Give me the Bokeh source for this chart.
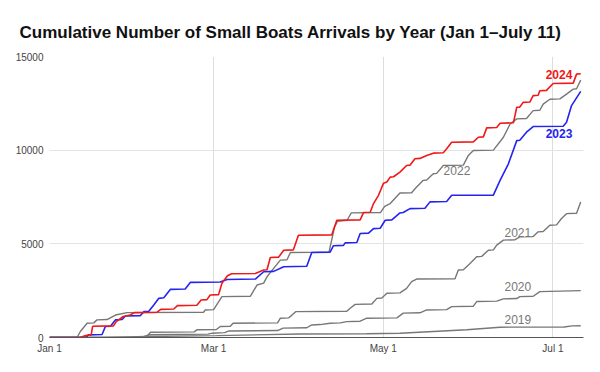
from bokeh.plotting import figure
from bokeh.models import FixedTicker, Range1d, Label
from bokeh.embed import file_html
from bokeh.resources import INLINE

# Day of year (Jan 1 = 0) and cumulative arrivals
days_2024 = [0, 11, 13, 15, 15.5, 23, 24, 26.5, 29, 30.5, 38.7, 40, 44.7, 46, 53, 54.5, 56.6, 57.8, 60.8, 62, 64, 65.5,
             74, 77, 78.2, 79.4, 82.4, 84.2, 87.7, 89.5, 101.5, 103.3, 111.7, 112.9, 115.3, 116.5, 118.3, 120.1, 121.3,
             122.5, 123.7, 126, 128.4, 129.6, 131.4, 133.2, 135.6, 138, 141.6, 142.8, 144.6, 152.4, 154.2, 156, 157.2,
             160.8, 162, 166.8, 168, 169.1, 170.3, 172.7, 173.9, 175.7, 176.3, 178.7, 181.1, 188.3, 189.5, 191]
vals_2024 = [0, 0, 100, 150, 600, 620, 850, 1120, 1200, 1330, 1350, 1500, 1520, 1700, 1720, 2000, 2020, 2270, 2290, 2900,
             3300, 3400, 3420, 3600, 3620, 4270, 4290, 4660, 4680, 5460, 5480, 6260, 6280, 6670, 6690, 7150, 7590, 8240,
             8300, 8560, 8580, 8830, 9180, 9200, 9540, 9560, 9720, 9840, 9860, 10070, 10420, 10440, 10690, 10710, 11190,
             11210, 11440, 11460, 12290, 12300, 12550, 12570, 12910, 12930, 13170, 13190, 13560, 13580, 14060, 14080]

days_2023 = [0, 13, 14, 18.9, 20.1, 21.9, 23.7, 26.1, 27.3, 32.7, 33.9, 35.7, 37.5, 39.3, 41.1, 43.5, 48.8, 50.6, 61.4,
             63.8, 74, 77, 80.6, 84.2, 92.5, 94.3, 100.9, 102.1, 105.7, 106.3, 110.5, 111.7, 114.7, 116.5, 118.9, 120.7,
             123.1, 126, 127.2, 129.6, 135, 136.8, 142.8, 144.6, 159.6, 162, 165, 168, 169.1, 171.5, 173.9, 184.7,
             185.9, 187.7, 191]
vals_2023 = [0, 0, 140, 160, 590, 600, 940, 960, 1150, 1170, 1380, 1400, 1740, 2090, 2120, 2570, 2590, 2940, 2960, 3100,
             3120, 3510, 3530, 3780, 3800, 4540, 4560, 4900, 4920, 5050, 5070, 5550, 5570, 5810, 5830, 6260, 6280, 6650,
             6670, 6880, 6900, 7240, 7260, 7590, 7600, 8390, 9270, 10510, 10530, 10960, 11260, 11280, 11490, 12380, 13140]

days_2022 = [0, 9.9, 11.1, 13.5, 15.9, 17.1, 20.7, 23.7, 27.9, 55.4, 56, 59, 62, 72.2, 74.6, 77, 78.2, 80.6, 83, 85.4,
             86.6, 100.5, 102.5, 103.5, 107, 108.5, 119, 120.5, 122.5, 126, 130.2, 131.4, 134.4, 135.6, 138, 139.2,
             141.6, 148.8, 150.6, 152.4, 159.6, 163.2, 165.6, 168, 171.5, 173.9, 176.3, 177.5, 179.9, 183.5, 185.9,
             188.3, 189.5, 191]
vals_2022 = [0, 0, 320, 760, 780, 940, 960, 1200, 1330, 1350, 1470, 1490, 2180, 2200, 2800, 2900, 3240, 3690, 4130, 4150,
             4540, 4560, 5900, 6200, 6260, 6650, 6670, 7000, 7150, 7710, 7730, 7940, 8390, 8410, 8740, 8760, 9180, 9200,
             9720, 9980, 10000, 10690, 11400, 11670, 11690, 12110, 12130, 12460, 12720, 12740, 12990, 13260, 13280, 13740]

days_2021 = [0, 30, 35, 36.3, 52, 53, 60, 61.4, 65, 66, 82, 83, 86, 87, 88.5, 106.9, 108.1, 109.9, 115.9, 117.7, 119.5,
             121.3, 126, 128.4, 130.2, 132, 145.8, 147, 148.8, 151.2, 153.6, 155.4, 157.8, 159.6, 160.8, 163.2, 167.4,
             169.1, 173.9, 175.7, 177.5, 179.9, 182.3, 184.1, 185.9, 189.5, 191]
vals_2021 = [0, 0, 60, 280, 300, 410, 430, 585, 600, 760, 780, 1030, 1050, 1170, 1380, 1400, 1560, 1770, 1790, 2090,
             2110, 2360, 2380, 2620, 2980, 3120, 3140, 3600, 3620, 3950, 4310, 4330, 4660, 4680, 4930, 5200, 5220, 5370,
             5390, 5640, 5660, 5990, 6010, 6350, 6610, 6630, 7230]

days_2020 = [0, 33, 36, 57, 58.5, 63, 64.5, 82, 84, 92.5, 94.3, 97.3, 100.9, 104.5, 106.9, 111.7, 114.1, 124.9, 127.2,
             133.2, 135.6, 142.8, 144.6, 152.4, 153.6, 160.8, 163.2, 168, 169.1, 173.9, 176.3, 191]
vals_2020 = [0, 0, 150, 180, 230, 260, 350, 370, 500, 520, 670, 690, 760, 780, 850, 870, 1030, 1050, 1300, 1320, 1470,
             1490, 1650, 1670, 1920, 1940, 2060, 2080, 2180, 2200, 2450, 2500]

days_2019 = [0, 20, 35, 60, 90, 114, 126, 150, 162, 185, 188, 191]
vals_2019 = [0, 0, 50, 100, 190, 200, 230, 410, 550, 560, 620, 630]

series_names = ["2019", "2020", "2021", "2022", "2023", "2024"]
label_days = [168.4, 168.4, 168.4, 146.5, 183.2, 183.2]
label_vals = [940, 2700, 5620, 8920, 10890, 14030]

x_tick_days = [0, 59, 120, 181]
x_tick_labels = ["Jan 1", "Mar 1", "May 1", "Jul 1"]
y_ticks = [0, 5000, 10000, 15000]

GREY = "#777777"
RED = "#f01818"
BLUE = "#2424ee"
FONT = "Liberation Sans"

p = figure(width=584, height=356, output_backend="svg", toolbar_location=None,
           x_range=Range1d(0, 192), y_range=Range1d(0, 15000),
           min_border_left=49, min_border_right=1, min_border_top=56, min_border_bottom=18)

p.title.text = "Cumulative Number of Small Boats Arrivals by Year (Jan 1\u2013July 11)"
p.title.text_font = FONT
p.title.text_font_size = "17px"
p.title.text_font_style = "bold"
p.title.text_color = "#111111"
p.title.align = "left"
p.title.offset = -30
p.title.standoff = 30

p.outline_line_color = None
p.background_fill_color = "white"
p.border_fill_color = "white"

p.xaxis.ticker = FixedTicker(ticks=x_tick_days)
p.xaxis.major_label_overrides = {d: l for d, l in zip(x_tick_days, x_tick_labels)}
p.xaxis.axis_line_color = "#555555"
p.xaxis.major_tick_line_color = None
p.xaxis.minor_tick_line_color = None
p.xaxis.major_tick_out = 0
p.xaxis.major_tick_in = 0
p.xaxis.minor_tick_out = 0
p.xaxis.minor_tick_in = 0
p.xaxis.major_label_text_font = FONT
p.xaxis.major_label_text_font_size = "10px"
p.xaxis.major_label_text_color = "#444444"
p.xaxis.major_label_standoff = 5

p.yaxis.ticker = FixedTicker(ticks=y_ticks)
p.yaxis.formatter.use_scientific = False
p.yaxis.axis_line_color = None
p.yaxis.major_tick_line_color = None
p.yaxis.minor_tick_line_color = None
p.yaxis.major_tick_out = 0
p.yaxis.major_tick_in = 0
p.yaxis.minor_tick_out = 0
p.yaxis.minor_tick_in = 0
p.yaxis.major_label_text_font = FONT
p.yaxis.major_label_text_font_size = "10px"
p.yaxis.major_label_text_color = "#444444"
p.yaxis.major_label_standoff = 6

p.xgrid.ticker = FixedTicker(ticks=x_tick_days)
p.ygrid.ticker = FixedTicker(ticks=y_ticks)
p.xgrid.grid_line_color = "#dddddd"
p.ygrid.grid_line_color = "#e4e4e4"

grey_series = [(days_2019, vals_2019), (days_2020, vals_2020), (days_2021, vals_2021), (days_2022, vals_2022)]
for d, v in grey_series:
    p.line(d, v, line_color=GREY, line_width=1.4)
p.line(days_2023, vals_2023, line_color=BLUE, line_width=1.6)
p.line(days_2024, vals_2024, line_color=RED, line_width=1.6)

label_colors = [GREY, GREY, GREY, GREY, BLUE, RED]
label_styles = ["normal", "normal", "normal", "normal", "bold", "bold"]
for name, d, v, c, s in zip(series_names, label_days, label_vals, label_colors, label_styles):
    p.add_layout(Label(x=d, y=v, text=name, text_color=c, text_font=FONT, text_font_size="12px",
                       text_font_style=s, text_align="center", text_baseline="middle",
                       background_fill_color="white" if s == "normal" else None))

open("out.html", "w").write(file_html(p, INLINE))
